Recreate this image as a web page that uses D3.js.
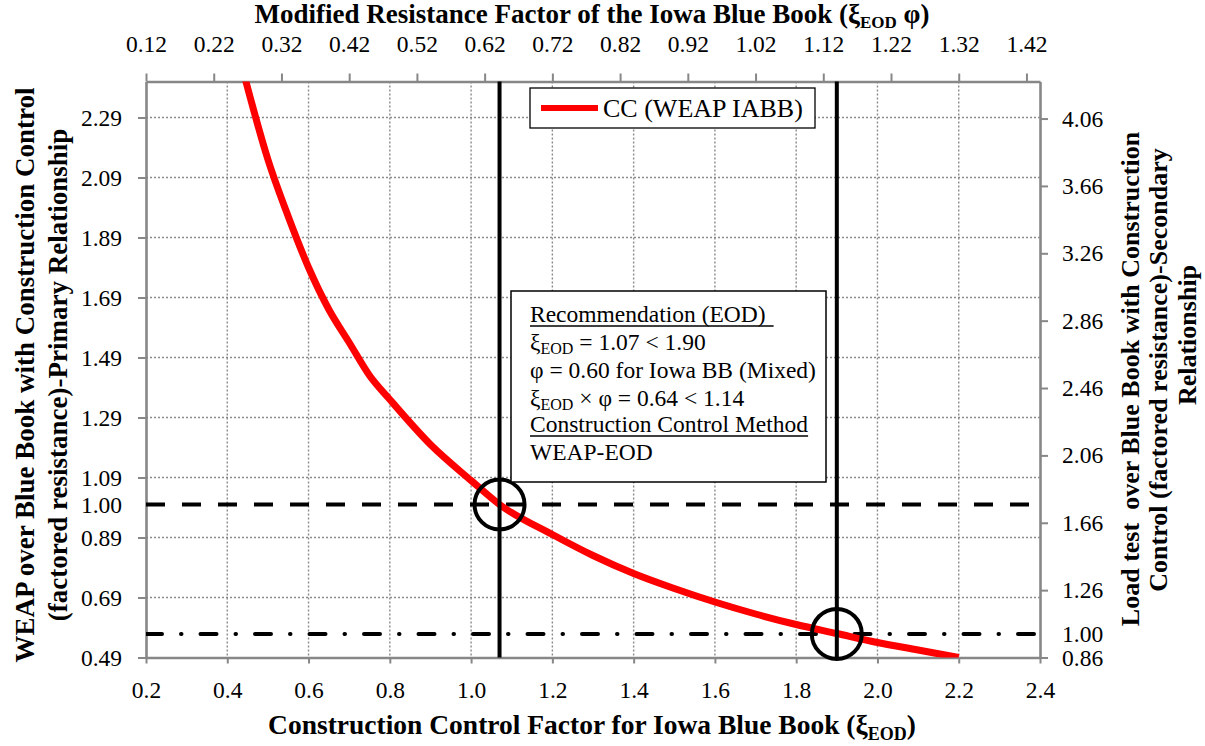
<!DOCTYPE html>
<html><head><meta charset="utf-8">
<script src="https://cdn.jsdelivr.net/npm/d3@7"></script>
<style>
html,body{margin:0;padding:0;background:#fff;}
svg{display:block;font-family:"Liberation Serif","Times New Roman",serif;}
</style></head>
<body><svg id="c" width="1205" height="746"></svg>
<script>
// ---- data ----
const bottomTicks = [0.2,0.4,0.6,0.8,1.0,1.2,1.4,1.6,1.8,2.0,2.2,2.4];
const topTicks = [0.12,0.22,0.32,0.42,0.52,0.62,0.72,0.82,0.92,1.02,1.12,1.22,1.32,1.42];
const leftTicks = [0.49,0.69,0.89,1.09,1.29,1.49,1.69,1.89,2.09,2.29];
const leftExtraTicks = [1.00];
const rightTicks = [0.86,1.26,1.66,2.06,2.46,2.86,3.26,3.66,4.06];
const rightExtraTicks = [1.00];
const ccX = [0.44,0.50,0.55,0.60,0.65,0.70,0.75,0.80,0.90,1.00,1.07,1.20,1.30,1.40,1.50,1.60,1.70,1.80,1.90,2.00,2.10,2.20];
const ccY = [2.44,2.15,1.96,1.79,1.65,1.54,1.43,1.35,1.20,1.08,1.00,0.90,0.83,0.77,0.72,0.675,0.635,0.60,0.57,0.54,0.515,0.49];
const seriesName = "CC (WEAP IABB)";
const refXi = [1.07, 1.90];
const refLeftY = 1.00;
const refRightY = 1.00;

// ---- layout ----
const L = 146, R = 1040, T = 81.5, B = 657.5;
const svg = d3.select("#c");
const x = d3.scaleLinear().domain([0.2, 2.4]).range([L, R]);
const xTop = d3.scaleLinear().domain([0.12, 1.44]).range([L, R]);
const yL = d3.scaleLinear().domain([0.49, 2.41]).range([B, T]);
const yR = d3.scaleLinear().domain([0.86, 4.28]).range([B, T]);
const axisCol = "#878787";
const SERIF = '"Liberation Serif","Times New Roman",serif';

// gridlines
const grid = svg.append("g");
grid.selectAll("line.h").data(leftTicks.slice(1)).join("line")
  .attr("x1", L).attr("x2", R).attr("y1", d => yL(d)).attr("y2", d => yL(d))
  .attr("stroke", "#8a8a8a").attr("stroke-width", 1.4).attr("stroke-dasharray", "2,2");
grid.selectAll("line.v").data(bottomTicks.slice(1, -1)).join("line")
  .attr("y1", T).attr("y2", B).attr("x1", d => x(d)).attr("x2", d => x(d))
  .attr("stroke", "#8a8a8a").attr("stroke-width", 1.4).attr("stroke-dasharray", "2,2");

// axes
function styleAxis(g){
  g.selectAll(".domain").attr("stroke", axisCol).attr("stroke-width", 2.6);
  g.selectAll(".tick line").attr("stroke", axisCol).attr("stroke-width", 2);
  g.selectAll(".tick text").attr("fill", "#000").style("font-size", "23.5px").style("font-family", SERIF);
}
svg.append("g").attr("transform", `translate(0,${B})`)
  .call(d3.axisBottom(x).tickValues(bottomTicks).tickFormat(d3.format(".1f")).tickSize(6).tickSizeOuter(0).tickPadding(18))
  .call(styleAxis);
svg.append("g").attr("transform", `translate(0,${T})`)
  .call(d3.axisTop(xTop).tickValues(topTicks).tickFormat(d3.format(".2f")).tickSize(8).tickSizeOuter(0).tickPadding(22))
  .call(styleAxis);
const gl = svg.append("g").attr("transform", `translate(${L},0)`)
  .call(d3.axisLeft(yL).tickValues(leftTicks.concat(leftExtraTicks)).tickFormat(d3.format(".2f")).tickSize(8).tickSizeOuter(0).tickPadding(16))
  .call(styleAxis);
gl.selectAll(".tick").filter(d => leftExtraTicks.includes(d)).select("line").remove();
const gr = svg.append("g").attr("transform", `translate(${R},0)`)
  .call(d3.axisRight(yR).tickValues(rightTicks.concat(rightExtraTicks)).tickFormat(d3.format(".2f")).tickSize(8).tickSizeOuter(0).tickPadding(14))
  .call(styleAxis);
gr.selectAll(".tick").filter(d => rightExtraTicks.includes(d)).select("line").remove();

// clip
svg.append("clipPath").attr("id", "clip").append("rect")
  .attr("x", L).attr("y", T).attr("width", R - L).attr("height", B - T);
const plot = svg.append("g").attr("clip-path", "url(#clip)");

// reference lines
plot.append("line").attr("x1", L).attr("x2", R).attr("y1", yL(refLeftY)).attr("y2", yL(refLeftY))
  .attr("stroke", "#000").attr("stroke-width", 4).attr("stroke-dasharray", "19,17");
plot.append("line").attr("x1", L).attr("x2", R).attr("y1", yR(refRightY)).attr("y2", yR(refRightY))
  .attr("stroke", "#000").attr("stroke-width", 4).attr("stroke-linecap", "round")
  .attr("stroke-dasharray", "16,19,0.5,19");

// series
const line = d3.line().x((d, i) => x(ccX[i])).y(d => yL(d)).curve(d3.curveMonotoneX);
plot.append("path").datum(ccY).attr("d", line).attr("fill", "none")
  .attr("stroke", "#ff0000").attr("stroke-width", 7);

refXi.forEach(v => {
  svg.append("line").attr("x1", x(v)).attr("x2", x(v)).attr("y1", T).attr("y2", B)
    .attr("stroke", "#000").attr("stroke-width", 4);
});
// circles
svg.append("circle").attr("cx", x(refXi[0])).attr("cy", yL(refLeftY)).attr("r", 25)
  .attr("fill", "none").attr("stroke", "#000").attr("stroke-width", 4);
svg.append("circle").attr("cx", x(refXi[1])).attr("cy", yR(refRightY)).attr("r", 25)
  .attr("fill", "none").attr("stroke", "#000").attr("stroke-width", 4);

// legend
const lg = svg.append("g");
lg.append("rect").attr("x", 530).attr("y", 88).attr("width", 285).attr("height", 40)
  .attr("fill", "#fff").attr("stroke", "#000").attr("stroke-width", 1.3);
lg.append("line").attr("x1", 541).attr("x2", 598).attr("y1", 108).attr("y2", 108)
  .attr("stroke", "#ff0000").attr("stroke-width", 6);
lg.append("text").attr("x", 603).attr("y", 117).style("font-size", "26px").text(seriesName);

// annotation box
const ab = svg.append("g");
ab.append("rect").attr("x", 511).attr("y", 291).attr("width", 315).attr("height", 191)
  .attr("fill", "#fff").attr("stroke", "#000").attr("stroke-width", 1.5);
const fs = "23.5px", sfs = "16px", tx = 530;
const a1 = ab.append("text").attr("x", tx).attr("y", 322).style("font-size", fs).text("Recommendation (EOD)");
ab.append("line").attr("x1", tx).attr("x2", tx + a1.node().getComputedTextLength() + 8)
  .attr("y1", 326).attr("y2", 326).attr("stroke", "#000").attr("stroke-width", 1.3);
const t2 = ab.append("text").attr("x", tx).attr("y", 350).style("font-size", fs);
t2.append("tspan").text("ξ");
t2.append("tspan").attr("dy", 4).style("font-size", sfs).text("EOD");
t2.append("tspan").attr("dy", -4).text(" = 1.07 < 1.90");
ab.append("text").attr("x", tx).attr("y", 378).style("font-size", fs).text("φ = 0.60 for Iowa BB (Mixed)");
const t4 = ab.append("text").attr("x", tx).attr("y", 406).style("font-size", fs);
t4.append("tspan").text("ξ");
t4.append("tspan").attr("dy", 4).style("font-size", sfs).text("EOD");
t4.append("tspan").attr("dy", -4).text(" × φ = 0.64 < 1.14");
const a5 = ab.append("text").attr("x", tx).attr("y", 432).style("font-size", fs).text("Construction Control Method");
ab.append("line").attr("x1", tx).attr("x2", tx + a5.node().getComputedTextLength())
  .attr("y1", 436).attr("y2", 436).attr("stroke", "#000").attr("stroke-width", 1.3);
ab.append("text").attr("x", tx).attr("y", 460).style("font-size", fs).text("WEAP-EOD");

// titles
const tt = svg.append("text").attr("x", 592).attr("y", 23).attr("text-anchor", "middle")
  .style("font-size", "27px").style("font-weight", "bold");
tt.append("tspan").text("Modified Resistance Factor of the Iowa Blue Book (ξ");
tt.append("tspan").attr("dy", 5).style("font-size", "17px").text("EOD");
tt.append("tspan").attr("dy", -5).text(" φ)");

const bt = svg.append("text").attr("x", 592).attr("y", 734).attr("text-anchor", "middle")
  .style("font-size", "27.5px").style("font-weight", "bold");
bt.append("tspan").text("Construction Control Factor for Iowa Blue Book (ξ");
bt.append("tspan").attr("dy", 6).style("font-size", "18px").text("EOD");
bt.append("tspan").attr("dy", -6).text(")");

function vtext(cx, cy, s, size){
  svg.append("text").attr("transform", `translate(${cx},${cy}) rotate(-90)`)
    .attr("text-anchor", "middle").style("font-size", size + "px").style("font-weight", "bold").text(s);
}
vtext(34, 375, "WEAP over Blue Book with Construction Control", 27);
vtext(67, 375, "(factored resistance)-Primary Relationship", 27);
vtext(1139, 379, "Load test\u00a0 over Blue Book with Construction", 26);
vtext(1167, 370, "Control (factored resistance)-Secondary", 26);
vtext(1196, 335, "Relationship", 26);
</script></body></html>
